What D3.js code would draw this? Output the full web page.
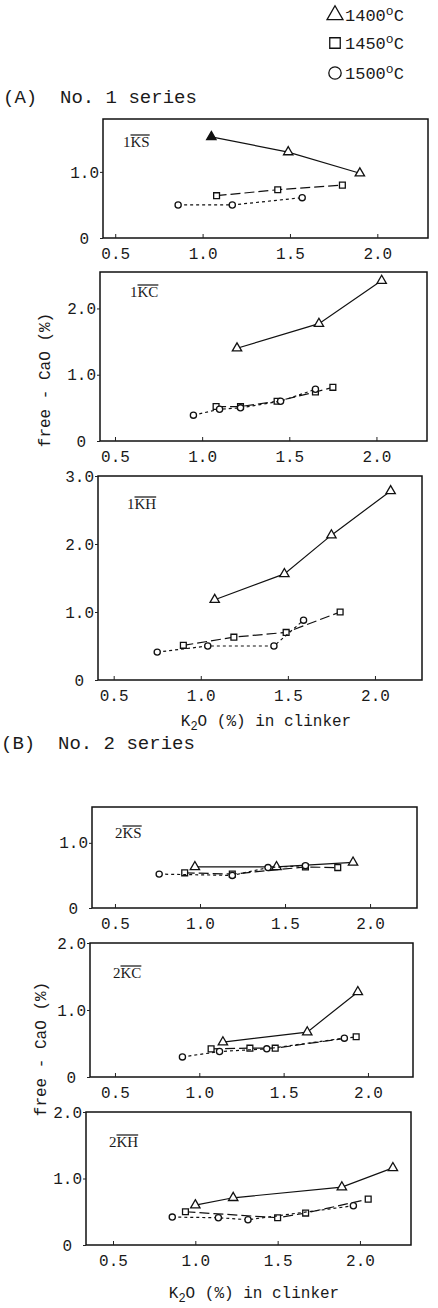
<!DOCTYPE html>
<html>
<head>
<meta charset="utf-8">
<script src="https://cdn.jsdelivr.net/npm/d3@7"></script>
<style>
  html, body { margin: 0; padding: 0; background: #fff; }
  svg { display: block; }
  text { font-family: "Liberation Mono", "DejaVu Sans Mono", monospace; fill: #1a1a1a; }
  .plabel { font-family: "Liberation Serif", "DejaVu Serif", serif; }
</style>
</head>
<body>
<svg id="chart" width="438" height="1308"></svg>
<script>
// ---- data: free CaO (%) against K2O (%) in clinker, per burning temperature ----
const temperatures = ["1400", "1450", "1500"];
const panelNames = ["1KS", "1KC", "1KH", "2KS", "2KC", "2KH"];
const xTickValues = [0.5, 1.0, 1.5, 2.0];
const yTickSets = [[0, 1], [0, 1, 2], [0, 1, 2, 3], [0, 1], [0, 1, 2], [0, 1, 2]];
const xDomains = [[0.43, 2.29], [0.414, 2.29], [0.41, 2.27], [0.365, 2.276], [0.352, 2.267], [0.336, 2.31]];
const yDomains = [[0, 1.8], [0, 2.55], [0, 3.0], [0, 1.55], [0, 2.0], [0, 2.0]];

// No. 1 series
const s1KS_1400 = [[1.05, 1.53], [1.49, 1.30], [1.90, 0.98]];
const s1KS_1450 = [[1.08, 0.64], [1.43, 0.73], [1.80, 0.80]];
const s1KS_1500 = [[0.86, 0.50], [1.17, 0.50], [1.57, 0.61]];

const s1KC_1400 = [[1.20, 1.40], [1.67, 1.77], [2.03, 2.42]];
const s1KC_1450 = [[1.08, 0.52], [1.22, 0.52], [1.43, 0.60], [1.65, 0.74], [1.75, 0.81]];
const s1KC_1500 = [[0.95, 0.39], [1.10, 0.48], [1.22, 0.50], [1.45, 0.60], [1.65, 0.78]];

const s1KH_1400 = [[1.08, 1.18], [1.48, 1.56], [1.75, 2.13], [2.09, 2.78]];
const s1KH_1450 = [[0.90, 0.51], [1.19, 0.63], [1.49, 0.70], [1.80, 1.00]];
const s1KH_1500 = [[0.75, 0.41], [1.04, 0.50], [1.42, 0.50], [1.59, 0.88]];

// No. 2 series
const s2KS_1400 = [[0.97, 0.63], [1.45, 0.63], [1.90, 0.70]];
const s2KS_1450 = [[0.91, 0.54], [1.19, 0.52], [1.62, 0.63], [1.81, 0.62]];
const s2KS_1500 = [[0.76, 0.52], [1.19, 0.50], [1.40, 0.62], [1.62, 0.65]];

const s2KC_1400 = [[1.14, 0.52], [1.64, 0.67], [1.94, 1.27]];
const s2KC_1450 = [[1.07, 0.42], [1.30, 0.43], [1.45, 0.43], [1.93, 0.60]];
const s2KC_1500 = [[0.90, 0.30], [1.12, 0.38], [1.40, 0.42], [1.86, 0.58]];

const s2KH_1400 = [[1.00, 0.60], [1.23, 0.71], [1.89, 0.87], [2.20, 1.16]];
const s2KH_1450 = [[0.94, 0.50], [1.50, 0.41], [1.67, 0.48], [2.05, 0.69]];
const s2KH_1500 = [[0.86, 0.42], [1.14, 0.41], [1.32, 0.38], [1.96, 0.59]];

const panelSeries = [
  [s1KS_1400, s1KS_1450, s1KS_1500],
  [s1KC_1400, s1KC_1450, s1KC_1500],
  [s1KH_1400, s1KH_1450, s1KH_1500],
  [s2KS_1400, s2KS_1450, s2KS_1500],
  [s2KC_1400, s2KC_1450, s2KC_1500],
  [s2KH_1400, s2KH_1450, s2KH_1500]
];

// ---- layout ----
const frames = [
  { left: 103, right: 428, top: 119, bottom: 238, labelDx: 20, labelDy: 28 },
  { left: 100, right: 427, top: 272, bottom: 441, labelDx: 30, labelDy: 25 },
  { left: 98,  right: 422, top: 476, bottom: 680, labelDx: 29, labelDy: 33 },
  { left: 92,  right: 417, top: 807, bottom: 908, labelDx: 23, labelDy: 31 },
  { left: 90,  right: 413, top: 943, bottom: 1077, labelDx: 23, labelDy: 35 },
  { left: 86,  right: 411, top: 1112, bottom: 1245, labelDx: 23, labelDy: 35 }
];
const dashes = [null, "10,4", "3,3"];
const symbolTypes = [d3.symbolTriangle, d3.symbolSquare, d3.symbolCircle];
const symbolSizes = [38, 34, 30];

const svg = d3.select("#chart");

const fmt = v => v === 0 ? "0" : d3.format(".1f")(v);

frames.forEach((f, i) => {
  const x = d3.scaleLinear().domain(xDomains[i]).range([f.left, f.right]);
  const y = d3.scaleLinear().domain(yDomains[i]).range([f.bottom, f.top]);
  const g = svg.append("g");

  // frame
  g.append("rect")
    .attr("x", f.left).attr("y", f.top)
    .attr("width", f.right - f.left).attr("height", f.bottom - f.top)
    .attr("fill", "none").attr("stroke", "#111").attr("stroke-width", 1.5);

  // x axis (ticks point inward)
  const xAxis = d3.axisBottom(x).tickValues(xTickValues).tickFormat(d3.format(".1f"))
    .tickSizeInner(-4).tickSizeOuter(0).tickPadding(10);
  const xa = g.append("g").attr("transform", `translate(0,${f.bottom})`).call(xAxis);
  xa.select(".domain").remove();
  xa.selectAll("line").attr("stroke", "#222");
  xa.selectAll("text").attr("font-size", 16).attr("font-family", "Liberation Mono").attr("fill", "#1a1a1a");

  // y axis
  const yAxis = d3.axisLeft(y).tickValues(yTickSets[i]).tickFormat(fmt)
    .tickSizeInner(3).tickSizeOuter(0).tickPadding(1);
  const ya = g.append("g").attr("transform", `translate(${f.left},0)`).call(yAxis);
  ya.select(".domain").remove();
  ya.selectAll("line").attr("stroke", "#222");
  ya.selectAll("text").attr("font-size", 16).attr("font-family", "Liberation Mono").attr("fill", "#1a1a1a");
  ya.selectAll(".tick").filter(d => d === 0).select("text").attr("dx", -10);

  // series lines and markers
  const line = d3.line().x(d => x(d[0])).y(d => y(d[1]));
  panelSeries[i].forEach((pts, s) => {
    g.append("path").datum(pts)
      .attr("d", line)
      .attr("fill", "none")
      .attr("stroke", "#111")
      .attr("stroke-width", 1.2)
      .attr("stroke-dasharray", dashes[s]);
    g.selectAll(null).data(pts).join("path")
      .attr("d", d3.symbol().type(symbolTypes[s]).size(symbolSizes[s]))
      .attr("transform", d => `translate(${x(d[0])},${y(d[1])})`)
      .attr("fill", (d, k) => (i === 0 && s === 0 && k === 0) ? "#111" : "#fff")
      .attr("stroke", "#111")
      .attr("stroke-width", 1.3);
  });

  // panel name with overline on the letters
  const name = panelNames[i];
  const t = g.append("text").attr("class", "plabel")
    .attr("x", f.left + f.labelDx).attr("y", f.top + f.labelDy)
    .attr("font-size", 15);
  t.text(name);
  const node = t.node();
  const x0 = node.getStartPositionOfChar(1).x;
  const w = node.getSubStringLength(1, name.length - 1);
  g.append("line")
    .attr("x1", x0).attr("x2", x0 + w)
    .attr("y1", f.top + f.labelDy - 12).attr("y2", f.top + f.labelDy - 12)
    .attr("stroke", "#111").attr("stroke-width", 1.2);
});

// series titles
svg.append("text").attr("x", 3).attr("y", 103).attr("font-size", 19)
  .attr("xml:space", "preserve").text("(A)  No. 1 series");
svg.append("text").attr("x", 1).attr("y", 749).attr("font-size", 19)
  .attr("xml:space", "preserve").text("(B)  No. 2 series");

// y-axis titles
[[50, 380], [46, 1049]].forEach(([cx, cy]) => {
  svg.append("text")
    .attr("transform", `translate(${cx},${cy}) rotate(-90)`)
    .attr("text-anchor", "middle").attr("font-size", 16)
    .attr("xml:space", "preserve")
    .text("free - CaO (%)");
});

// x-axis titles
[[266, 726], [254, 1298]].forEach(([cx, cy]) => {
  const t = svg.append("text").attr("x", cx).attr("y", cy)
    .attr("text-anchor", "middle").attr("font-size", 16)
    .attr("xml:space", "preserve");
  t.append("tspan").text("K");
  t.append("tspan").attr("dy", 4).attr("font-size", 12).text("2");
  t.append("tspan").attr("dy", -4).text("O (%) in clinker");
});

// legend
const legendRows = [21, 49, 79];
temperatures.forEach((temp, s) => {
  const cy = legendRows[s] - 6;
  svg.append("path")
    .attr("d", d3.symbol().type(symbolTypes[s]).size([110, 110, 120][s]))
    .attr("transform", `translate(335,${cy})`)
    .attr("fill", "none").attr("stroke", "#111").attr("stroke-width", 1.3);
  const t = svg.append("text").attr("x", 345).attr("y", legendRows[s]).attr("font-size", 17);
  t.append("tspan").text(temp);
  t.append("tspan").attr("dy", -6).attr("font-size", 13).text("o");
  t.append("tspan").attr("dy", 6).text("C");
});
</script>
</body>
</html>
